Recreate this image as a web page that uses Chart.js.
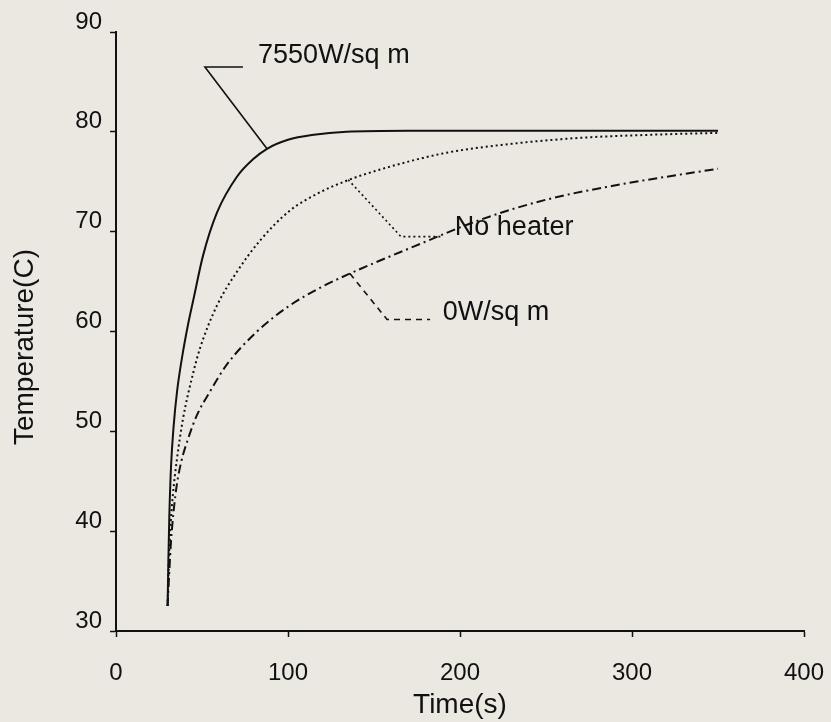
<!DOCTYPE html>
<html>
<head>
<meta charset="utf-8">
<script src="https://cdn.jsdelivr.net/npm/chart.js@4.4.1/dist/chart.umd.min.js"></script>
<style>
  html, body { margin: 0; padding: 0; background: #ebe8e2; }
  #wrap { width: 831px; height: 722px; }
</style>
</head>
<body>
<div id="wrap"><canvas id="chart" width="831" height="722"></canvas></div>
<script>
// values: time (s) and temperature (C)
const heaterTime = [30, 30.5, 31, 32, 33.5, 35.5, 38.5, 42, 45, 50.6, 58.7, 70.3, 80, 87.8, 100, 115, 134, 170, 350];
const heaterTemp = [32.5, 37.5, 41.5, 46.5, 50.5, 54, 57.5, 60.8, 63.2, 67.6, 71.9, 75.5, 77.3, 78.3, 79.2, 79.7, 80.0, 80.1, 80.1];

const noHeaterTime = [30, 30.7, 31.5, 33, 35.5, 39, 44.8, 48.8, 58.7, 70, 83.7, 101, 117, 134, 155, 192, 230, 270, 310, 350];
const noHeaterTemp = [32.5, 37, 40, 43.5, 47.3, 51.3, 55.8, 58.3, 62.6, 65.9, 69.1, 72.1, 73.8, 75.1, 76.3, 77.9, 78.8, 79.4, 79.7, 79.9];

const zeroTime = [30, 31, 32, 33.5, 35.5, 38, 42, 47, 54.7, 64.5, 82, 101, 120, 136, 173, 212, 250, 289, 320, 350];
const zeroTemp = [32.5, 36, 39, 42, 44.8, 47, 49.3, 51.6, 54, 56.7, 60, 62.6, 64.5, 65.8, 68.5, 71.2, 73.2, 74.6, 75.5, 76.3];

const xTicks = [0, 100, 200, 300, 400];
const yTicks = [30, 40, 50, 60, 70, 80, 90];

// callout labels: text, anchor on the curve, elbow, end of the leader (data units)
const labelNames = ['7550W/sq m', 'No heater', '0W/sq m'];
const leaderPts = [
  [[87.8, 78.3], [51.7, 86.5], [73.8, 86.5]],
  [[135, 75.2], [165.7, 69.5], [189, 69.5]],
  [[136, 65.8], [157.6, 61.2], [182.6, 61.2]]
];
const labelPos = [[82.6, 87.6], [197, 70.4], [190, 61.9]];

const FONT = '"Liberation Sans", Arial, Helvetica, sans-serif';

function pts(xs, ys) {
  return xs.map((x, i) => ({ x: x, y: ys[i] }));
}

function leader(i, dash) {
  return {
    data: leaderPts[i].map(p => ({ x: p[0], y: p[1] })),
    borderColor: '#111',
    borderWidth: 1.6,
    borderDash: dash,
    pointRadius: 0,
    tension: 0
  };
}

const calloutText = {
  id: 'calloutText',
  afterDatasetsDraw(chart) {
    const { ctx, scales } = chart;
    ctx.save();
    ctx.fillStyle = '#111';
    ctx.font = '27px ' + FONT;
    ctx.textAlign = 'left';
    ctx.textBaseline = 'middle';
    labelNames.forEach((name, i) => {
      ctx.fillText(name, scales.x.getPixelForValue(labelPos[i][0]), scales.y.getPixelForValue(labelPos[i][1]));
    });
    ctx.restore();
  }
};

new Chart(document.getElementById('chart'), {
  type: 'line',
  data: {
    datasets: [
      {
        data: pts(heaterTime, heaterTemp),
        borderColor: '#111', borderWidth: 2, pointRadius: 0,
        cubicInterpolationMode: 'monotone'
      },
      {
        data: pts(noHeaterTime, noHeaterTemp),
        borderColor: '#111', borderWidth: 2, borderDash: [2, 3], pointRadius: 0,
        cubicInterpolationMode: 'monotone'
      },
      {
        data: pts(zeroTime, zeroTemp),
        borderColor: '#111', borderWidth: 2, borderDash: [9, 4, 2, 4], pointRadius: 0,
        cubicInterpolationMode: 'monotone'
      },
      leader(0, []),
      leader(1, [2, 3]),
      leader(2, [6, 5])
    ]
  },
  options: {
    responsive: false,
    animation: false,
    layout: { padding: { top: 32, right: 27, left: 0, bottom: 0 } },
    plugins: { legend: { display: false }, tooltip: { enabled: false } },
    scales: {
      x: {
        type: 'linear',
        min: 0, max: 400,
        afterBuildTicks: s => { s.ticks = xTicks.map(v => ({ value: v })); },
        afterFit: s => { s.height = 91; s.paddingLeft = 0; s.paddingRight = 0; },
        grid: { drawOnChartArea: false, color: '#111', tickLength: 6, tickWidth: 1.5 },
        border: { color: '#111', width: 2 },
        ticks: { color: '#111', padding: 22, maxRotation: 0, font: { family: FONT, size: 24 } },
        title: { display: true, text: 'Time(s)', color: '#111', padding: { top: 0, bottom: 0 }, font: { family: FONT, size: 28 } }
      },
      y: {
        min: 30, max: 90,
        afterBuildTicks: s => { s.ticks = yTicks.map(v => ({ value: v })); },
        afterFit: s => { s.width = 116; s.paddingTop = 0; s.paddingBottom = 0; },
        grid: { drawOnChartArea: false, color: '#111', tickLength: 6, tickWidth: 1.5 },
        border: { color: '#111', width: 2 },
        ticks: { color: '#111', padding: 8, labelOffset: -10, font: { family: FONT, size: 24 } },
        title: { display: true, text: 'Temperature(C)    ', color: '#111', padding: { top: 8, bottom: 0 }, font: { family: FONT, size: 28 } }
      }
    }
  },
  plugins: [calloutText]
});
</script>
</body>
</html>
